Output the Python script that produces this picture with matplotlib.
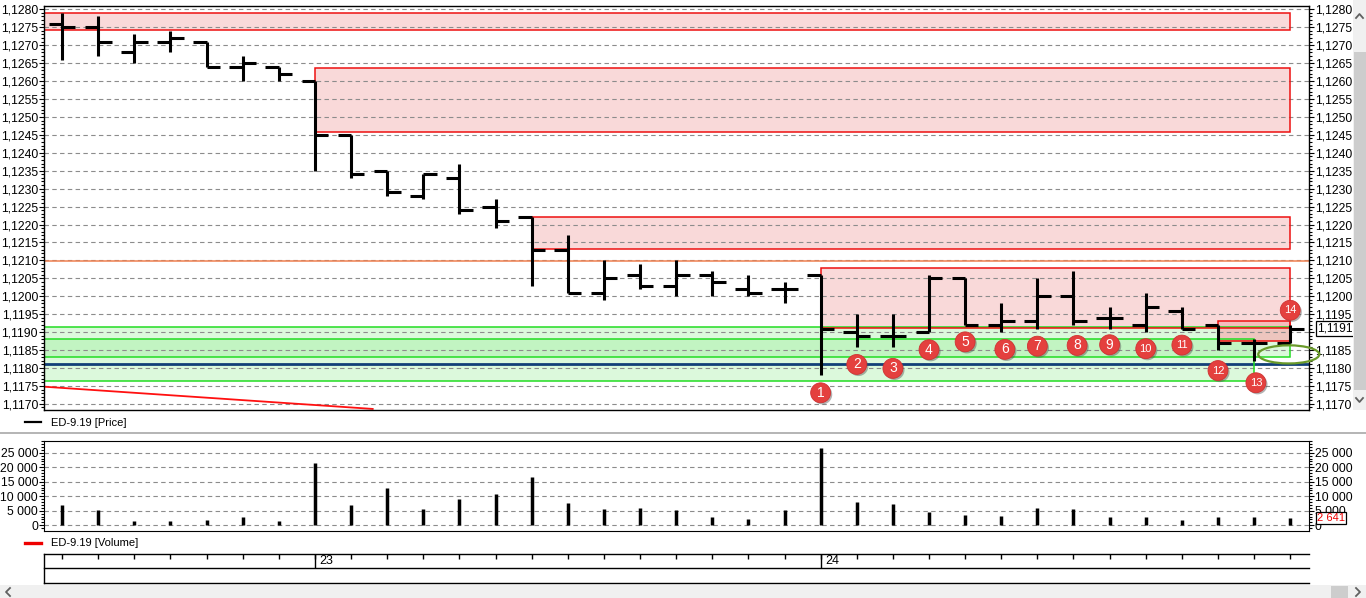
import matplotlib
matplotlib.use("Agg")
import matplotlib.pyplot as plt
import matplotlib.patches as mpatches
import matplotlib.patheffects as pe
from matplotlib.lines import Line2D
from matplotlib.transforms import blended_transform_factory
from matplotlib.ticker import MultipleLocator, FuncFormatter

plt.rcParams['font.family'] = ['Liberation Sans', 'DejaVu Sans']

# ---------------- data ----------------
opens = [1.1276, 1.1275, 1.1268, 1.1271, 1.1271, 1.1264, 1.1264, 1.1260, 1.1245, 1.1235,
         1.1228, 1.1233, 1.1225, 1.1222, 1.1213, 1.1201, 1.1206, 1.1203, 1.1206, 1.1202,
         1.1202, 1.1206, 1.1190, 1.1189, 1.1190, 1.1205, 1.1192, 1.1193, 1.1200, 1.1194,
         1.1192, 1.1196, 1.1192, 1.1187, 1.1187]
highs = [1.1279, 1.1278, 1.1273, 1.1274, 1.1271, 1.1267, 1.1264, 1.1260, 1.1245, 1.1235,
         1.1234, 1.1237, 1.1227, 1.1222, 1.1217, 1.1210, 1.1209, 1.1210, 1.1207, 1.1206,
         1.1204, 1.1206, 1.1195, 1.1195, 1.1206, 1.1205, 1.1198, 1.1205, 1.1207, 1.1197,
         1.1201, 1.1197, 1.1192, 1.1188, 1.1192]
lows = [1.1266, 1.1267, 1.1265, 1.1268, 1.1264, 1.1260, 1.1260, 1.1235, 1.1233, 1.1228,
        1.1227, 1.1223, 1.1219, 1.1203, 1.1201, 1.1199, 1.1202, 1.1200, 1.1200, 1.1200,
        1.1198, 1.1178, 1.1186, 1.1186, 1.1190, 1.1192, 1.1190, 1.1191, 1.1192, 1.1191,
        1.1190, 1.1191, 1.1185, 1.1182, 1.1187]
closes = [1.1275, 1.1271, 1.1271, 1.1272, 1.1264, 1.1265, 1.1262, 1.1245, 1.1234, 1.1229,
          1.1234, 1.1224, 1.1221, 1.1213, 1.1201, 1.1205, 1.1203, 1.1206, 1.1204, 1.1201,
          1.1202, 1.1191, 1.1189, 1.1189, 1.1205, 1.1192, 1.1193, 1.1200, 1.1193, 1.1194,
          1.1197, 1.1191, 1.1187, 1.1187, 1.1191]
volumes = [7000, 5200, 1400, 1400, 1700, 2700, 1400, 21300, 7000, 13000,
           5700, 8900, 10900, 16800, 7800, 5700, 5800, 5400, 3000, 2300,
           5400, 26700, 8100, 7400, 4700, 3600, 3300, 6000, 5700, 2900,
           2900, 1900, 2900, 2900, 2641]
day_start_idx = [7, 21]
day_labels = ["23", "24"]

# resistance zones (pink)
res_start = [-0.5, 7, 13, 21, 32]
res_end = [34, 34, 34, 34, 34]
res_low = [1.12741, 1.12459, 1.12132, 1.11911, 1.11875]
res_high = [1.12790, 1.12635, 1.12220, 1.12080, 1.11931]
# support zones (green)
sup_start = [-0.5, -0.5]
sup_end = [34, 33]
sup_low = [1.11832, 1.11763]
sup_high = [1.11913, 1.11880]
orange_level = 1.12097
blue_level = 1.11812
trend_x = [-0.5, 8.6]
trend_y = [1.11748, 1.11686]
ellipse_center = (33.96, 1.11838)

mark_x = [21, 22, 23, 24, 25, 26.1, 27, 28.1, 29, 30, 31, 32, 33.05, 34]
mark_y = [1.11731, 1.11810, 1.11799, 1.11851, 1.11873, 1.11852, 1.11861, 1.11863,
          1.11865, 1.11854, 1.11864, 1.11793, 1.11759, 1.11961]
mark_labels = [str(i) for i in range(1, 15)]

last_price_label = "1,1191"
last_volume_label = "2 641"

# ---------------- figure ----------------
W, H = 1366, 598
fig = plt.figure(figsize=(W / 100, H / 100), dpi=100)
fig.patch.set_facecolor('white')


def fx(x):
    return x / W


def fy(y):
    return 1 - y / H


def rect_px(x0, y0, x1, y1):
    return [fx(x0), fy(y1), fx(x1) - fx(x0), fy(y0) - fy(y1)]


ax = fig.add_axes(rect_px(44, 6, 1309, 410))
axv = fig.add_axes(rect_px(44, 441, 1309, 531))
axd = fig.add_axes(rect_px(44, 553.5, 1309, 583))

n = len(opens)
xs = list(range(n))
XL = (-0.5, 34.52)
tick_len = 0.37
GRID = dict(color='#8c8c8c', linestyle=(0, (4, 3)), linewidth=0.8)
TICKFS = 8.8

# ---------- price panel ----------
ax.set_xlim(*XL)
ax.set_ylim(1.11683, 1.128092)
ax.set_axisbelow(True)

for s, e, lo, hi in zip(sup_start, sup_end, sup_low, sup_high):
    ax.add_patch(mpatches.Rectangle((s, lo), e - s, hi - lo, facecolor='#7fea7f',
                                    alpha=0.27, edgecolor='none', zorder=0.3))
    ax.add_patch(mpatches.Rectangle((s, lo), e - s, hi - lo, facecolor='none',
                                    edgecolor='#22dd22', lw=1.1, zorder=1.6))
for i, (s, e, lo, hi) in enumerate(zip(res_start, res_end, res_low, res_high)):
    ax.add_patch(mpatches.Rectangle((s, lo), e - s, hi - lo, facecolor='#f4b4b4',
                                    alpha=0.5 if i < 4 else 0.75, edgecolor='none',
                                    zorder=0.35))
    ax.add_patch(mpatches.Rectangle((s, lo), e - s, hi - lo, facecolor='none',
                                    edgecolor='#ee1111', lw=1.1, zorder=1.7))

ax.axhline(orange_level, color='#f08050', lw=1.1, zorder=1.5)
ax.axhline(blue_level, color='#123f78', lw=2.0, zorder=1.5)
ax.plot(trend_x, trend_y, color='#ff1010', lw=1.3, zorder=1.5)

ax.vlines(xs, lows, highs, color='black', lw=2.2, zorder=3)
ax.hlines(opens, [x - tick_len for x in xs], xs, color='black', lw=2.2, zorder=3)
ax.hlines(closes, xs, [x + tick_len for x in xs], color='black', lw=2.2, zorder=3)

ell = mpatches.Ellipse(ellipse_center, 1.69, 0.000505, facecolor='none',
                       edgecolor='#6a9a2a', lw=1.6, zorder=4, clip_on=False)
ax.add_patch(ell)

sc = ax.scatter(mark_x, mark_y, s=205, color='#e4403e', edgecolors='#d03232',
                linewidths=0.6, zorder=6, clip_on=False)
sc.set_path_effects([pe.SimplePatchShadow(offset=(1.2, -1.2), shadow_rgbFace='#555555',
                                          alpha=0.45), pe.Normal()])
for x, y, t in zip(mark_x, mark_y, mark_labels):
    ax.text(x, y, t, color='white', fontsize=10 if len(t) == 1 else 8,
            ha='center', va='center', zorder=7, clip_on=False)

ax.yaxis.set_major_locator(MultipleLocator(0.0005))
ax.yaxis.set_minor_locator(MultipleLocator(0.0001))


def price_fmt(v, p):
    return f"{v:.4f}".replace('.', ',')


ax.yaxis.set_major_formatter(FuncFormatter(price_fmt))
ax.tick_params(axis='y', which='both', left=True, right=True, labelleft=True,
               labelright=True, direction='out', labelsize=TICKFS, pad=0.5, width=0.8)
ax.tick_params(axis='y', which='major', length=3.8)
ax.tick_params(axis='y', which='minor', length=2.0)
ax.tick_params(axis='x', bottom=False, labelbottom=False)
ax.grid(True, axis='y', which='major', **GRID)
for sp in ax.spines.values():
    sp.set_linewidth(1.0)

trans = blended_transform_factory(ax.transAxes, ax.transData)
ax.annotate(last_price_label, xy=(1, closes[-1]), xycoords=trans, xytext=(8, 0),
            textcoords='offset pixels', ha='left', va='center', fontsize=8.6,
            bbox=dict(boxstyle='square,pad=0.12', fc='white', ec='black', lw=0.9),
            zorder=10, annotation_clip=False)

# hide the right-hand label that the last-price box covers
fig.canvas.draw()
for tk in ax.yaxis.get_major_ticks():
    if abs(tk.get_loc() - 1.1190) < 1e-6:
        tk.label2.set_visible(False)

# ---------- volume panel ----------
axv.set_xlim(*XL)
axv.set_ylim(-1963, 29029)
axv.set_axisbelow(True)
axv.vlines(xs, 0, volumes, color='black', lw=2.5, zorder=3)
axv.yaxis.set_major_locator(MultipleLocator(5000))
axv.yaxis.set_minor_locator(MultipleLocator(1000))
axv.yaxis.set_major_formatter(FuncFormatter(lambda v, p: f"{int(round(v)):,}".replace(',', ' ')))
axv.tick_params(axis='y', which='both', left=True, right=True, labelleft=True,
                labelright=True, direction='out', labelsize=TICKFS, pad=0.5, width=0.8)
axv.tick_params(axis='y', which='major', length=3.8)
axv.tick_params(axis='y', which='minor', length=2.0)
axv.tick_params(axis='x', bottom=False, labelbottom=False)
axv.grid(True, axis='y', which='major', **GRID)
transv = blended_transform_factory(axv.transAxes, axv.transData)
axv.annotate(last_volume_label, xy=(1, volumes[-1]), xycoords=transv, xytext=(8, 0),
             textcoords='offset pixels', ha='left', va='center', fontsize=8,
             color='#ee0000',
             bbox=dict(boxstyle='square,pad=0.1', fc='white', ec='black', lw=0.9),
             zorder=10, annotation_clip=False)

# ---------- date panel ----------
axd.set_xlim(*XL)
axd.set_ylim(0, 2)
axd.axis('off')
axd.plot([XL[0], XL[1]], [2, 2], color='black', lw=1, clip_on=False)
axd.plot([XL[0], XL[1]], [1, 1], color='black', lw=1, clip_on=False)
axd.plot([XL[0], XL[1]], [0, 0], color='black', lw=1, clip_on=False)
axd.plot([XL[0], XL[0]], [0, 2], color='black', lw=1, clip_on=False)
axd.vlines(xs, 1.66, 2, color='black', lw=1)
axd.vlines(day_start_idx, 1, 2, color='black', lw=1)
for i, t in zip(day_start_idx, day_labels):
    axd.text(i + 0.12, 1.5, t, fontsize=9, ha='left', va='center')

# ---------- legend rows / separators ----------
fig.add_artist(Line2D([fx(0), fx(W)], [fy(433), fy(433)], color='#a8a8a8', lw=1.2))
fig.add_artist(Line2D([fx(25), fx(41)], [fy(422), fy(422)], color='black', lw=1.6))
fig.text(fx(51), fy(422.5), "ED-9.19 [Price]", fontsize=8, ha='left', va='center')
fig.add_artist(Line2D([fx(25), fx(41)], [fy(543), fy(543)], color='#ee0000', lw=2.4))
fig.text(fx(51), fy(543.5), "ED-9.19 [Volume]", fontsize=8, ha='left', va='center')

# ---------- scrollbars ----------
fig.add_artist(mpatches.Rectangle((fx(1353), fy(410)), fx(13), fy(0) - fy(410),
                                  transform=fig.transFigure, fc='#f0f0f0', ec='none'))
fig.add_artist(mpatches.Rectangle((fx(1354), fy(390)), fx(12), fy(52) - fy(390),
                                  transform=fig.transFigure, fc='#cdcdcd', ec='none'))
fig.add_artist(mpatches.Rectangle((0, 0), 1, fy(585), transform=fig.transFigure,
                                  fc='#f0f0f0', ec='none'))
fig.add_artist(mpatches.Rectangle((fx(1331), 0), fx(17), fy(586),
                                  transform=fig.transFigure, fc='#cdcdcd', ec='none'))
chev = dict(color='#606060', lw=1.3)
fig.add_artist(Line2D([fx(1356), fx(1359.5), fx(1363)], [fy(18), fy(14), fy(18)], **chev))
fig.add_artist(Line2D([fx(1356), fx(1359.5), fx(1363)], [fy(398), fy(402), fy(398)], **chev))
fig.add_artist(Line2D([fx(10), fx(6), fx(10)], [fy(588), fy(592), fy(596)], **chev))
fig.add_artist(Line2D([fx(1356), fx(1360), fx(1356)], [fy(588), fy(592), fy(596)], **chev))

fig.savefig("out.png", dpi=100)
